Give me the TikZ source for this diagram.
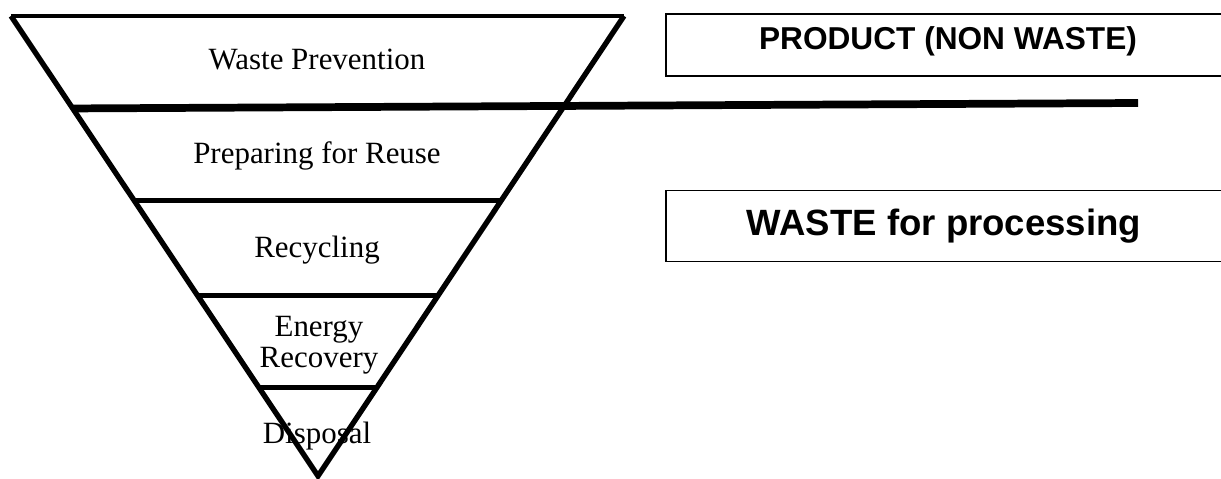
\documentclass[tikz,border=0pt]{standalone}
\usepackage{fontspec}
\setmainfont{Liberation Serif}
\newfontfamily\boxfont{Liberation Sans}
\usepackage{tikz}
\usetikzlibrary{calc}

\tikzset{
	levelline/.style={line width=3.4pt},
	boxline/.style={line width=1.4pt},
	level/.style={anchor=base, inner sep=0pt, font=\fontsize{22}{22}\selectfont},
	boxtext/.style={anchor=base, inner sep=0pt, font=\boxfont\bfseries},
}

\begin{document}
\begin{tikzpicture}[x=0.025cm, y=-0.025cm, line join=miter]
	\def\Wd{1221}
	\def\Ht{479}
	\useasboundingbox (0,0) rectangle (\Wd,\Ht);
	\clip (0,0) rectangle (\Wd,\Ht);

	% inverted triangle
	\coordinate (tl) at (11,16);
	\coordinate (tr) at (624,16);
	\coordinate (tip) at (318,476);
	\draw[line width=2.6pt] (tl) -- (tr);
	\draw[line width=3.8pt] (tl) -- (tip) -- (tr);

	% level dividers
	\foreach \t in {0.401, 0.607, 0.807}
		\draw[levelline] ($(tl)!\t!(tip)$) -- ($(tr)!\t!(tip)$);

	% product / waste cut
	\coordinate (cut) at (1138,103);
	\draw[line width=5.5pt] ($(tl)!0.201!(tip)$) -- (cut);

	\node[level] (prevent)	at (317,70) {Waste Prevention};
	\node[level] (reuse)	at (317,163) {Preparing for Reuse};
	\node[level] (recycle)	at (317,257) {Recycling};
	\node[level, align=center] (energy) at (319,367) {Energy\\Recovery};
	\node[level] (dispose)	at (317,443) {Disposal};

	% boxes on the right
	\draw[boxline]	(666,14) rectangle (1240,76);
	\draw[boxline]	(666,190.5) rectangle (1240,261.5);
	\node[boxtext, font=\boxfont\bfseries\fontsize{22.5}{27}\selectfont] (product) at (948,50) {PRODUCT (NON WASTE)};
	\node[boxtext, font=\boxfont\bfseries\fontsize{26}{31}\selectfont] (waste) at (944,235) {WASTE for processing};
\end{tikzpicture}
\end{document}
